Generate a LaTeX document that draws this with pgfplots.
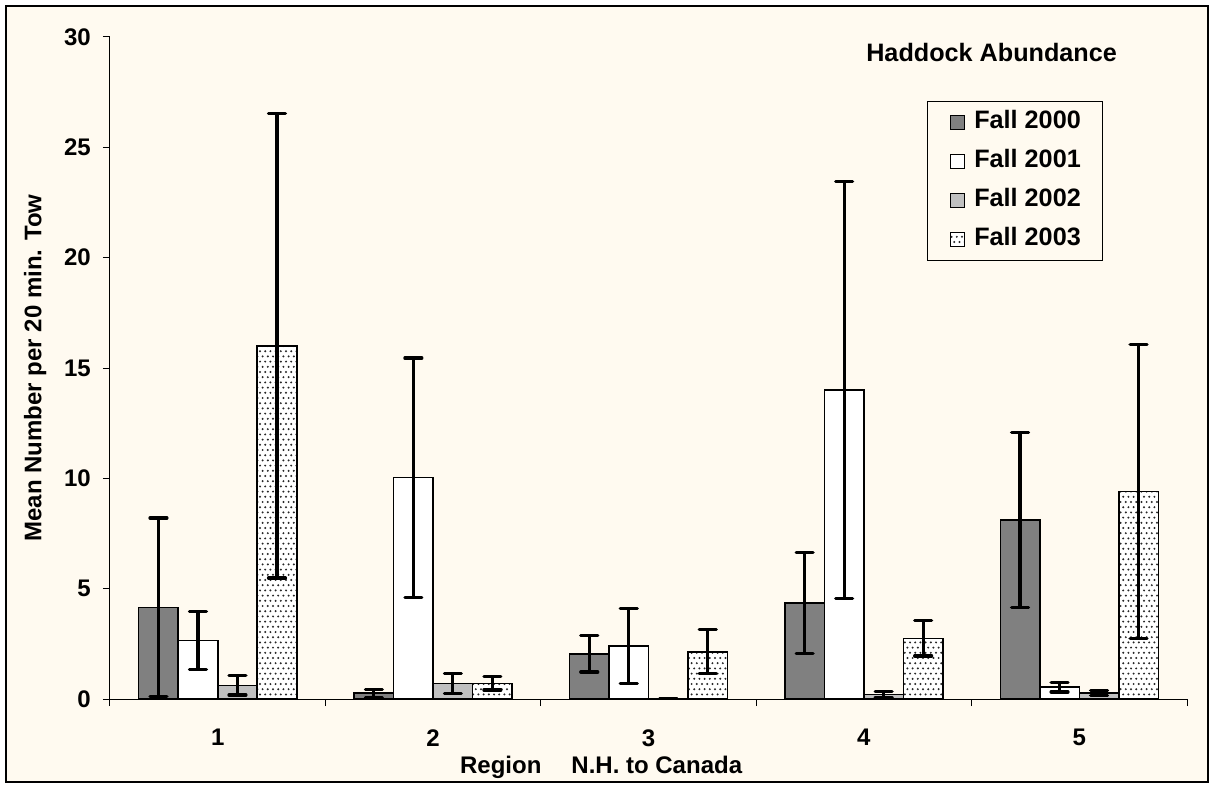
\documentclass[border=0pt]{standalone}
\usepackage{fontspec}
\setmainfont{Liberation Sans}
\usepackage{pgfplots}
\pgfplotsset{compat=1.18}
\usetikzlibrary{patterns}
\pgfdeclarepatternformonly{mydots}{\pgfqpoint{-1pt}{-1pt}}{\pgfqpoint{3.6pt}{6.2pt}}{\pgfqpoint{2.6pt}{5.2pt}}{%
  \pgfpathcircle{\pgfqpoint{0pt}{0pt}}{0.55pt}%
  \pgfpathcircle{\pgfqpoint{1.3pt}{2.6pt}}{0.55pt}%
  \pgfusepath{fill}}
\definecolor{bg}{RGB}{255,250,240}
\definecolor{dgray}{RGB}{128,128,128}
\definecolor{lgray}{RGB}{192,192,192}
\newcommand\f{\fontsize{12}{14.4}\selectfont\bfseries}
\newcommand\g{\fontsize{12.6}{15}\selectfont\bfseries}
\pgfplotsset{
  ebar/.style={error bars/.cd, y dir=both, y explicit,
    error bar style={line width=1.6pt,black},
    error mark options={rotate=90, line width=1.6pt, mark size=4.25pt, black, line cap=round}},
}
\begin{document}
\begin{tikzpicture}
\fill[white] (0,0) rectangle (607pt,394pt);
\draw[fill=bg, line width=0.6pt] (3pt,3pt) rectangle (604pt,391pt);
\begin{axis}[
  at={(55pt,44.5pt)}, anchor=south west,
  scale only axis, width=538.5pt, height=331pt,
  xmin=0.5, xmax=5.5, ymin=0, ymax=30,
  axis x line*=bottom, axis y line*=left,
  axis line style={line width=0.5pt, black},
  ybar=0pt, bar width=19.75pt,
  xtick={0.5,1.5,...,5.5}, xticklabels={},
  extra x ticks={1,2,3,4,5}, extra x tick labels={1,2,3,4,5},
  extra x tick style={tick style={draw=none}},
  ytick={0,5,...,30},
  tick align=outside,
  major tick length=3.6pt,
  tick style={black, line width=0.5pt},
  ticklabel style={font=\f},
  /pgf/number format/assume math mode=true,
  yticklabel style={xshift=-2.5pt},
  xticklabel style={yshift=-8pt},
  ylabel={Mean Number per 20 min. Tow},
  ylabel style={font=\f, at={(axis description cs:-0.0696,0.5)}, anchor=center},
  xlabel={Region\hspace{15pt}N.H. to Canada},
  xlabel style={font=\f, at={(axis description cs:0.456,-0.1118)}, anchor=base},
  legend style={at={(0.7586,0.9033)}, anchor=north west, draw=black, line width=0.5pt,
    fill=bg, font=\g, inner xsep=11pt, inner ysep=4.5pt, row sep=7.5pt, column sep=4.7pt,
    nodes={inner sep=0pt, text height=9pt, text depth=3pt}},
  legend cell align=left,
  legend image code/.code={\draw[#1, line width=0.7pt] (0pt,-3.5pt) rectangle (7pt,3.5pt);},
]
\addplot[fill=dgray, draw=black, line width=0.8pt, ebar] coordinates {
  (1,4.15) +- (0,4.05)
  (2,0.26) +- (0,0.18)
  (3,2.04) +- (0,0.82)
  (4,4.35) +- (0,2.30)
  (5,8.10) +- (0,3.96)
};
\addplot[fill=white, draw=black, line width=0.8pt, ebar] coordinates {
  (1,2.65) +- (0,1.33)
  (2,10.03) +- (0,5.42)
  (3,2.39) +- (0,1.70)
  (4,14.00) +- (0,9.45)
  (5,0.54) +- (0,0.22)
};
\addplot[fill=lgray, draw=black, line width=0.8pt, ebar] coordinates {
  (1,0.62) +- (0,0.44)
  (2,0.71) +- (0,0.45)
  (3,0.02) +- (0,0)
  (4,0.20) +- (0,0.15)
  (5,0.26) +- (0,0.11)
};
\addplot[fill=white, draw=black, line width=0.8pt, postaction={pattern=mydots, pattern color=black!85}, ebar] coordinates {
  (1,16.00) +- (0,10.52)
  (2,0.71) +- (0,0.30)
  (3,2.14) +- (0,1.00)
  (4,2.75) +- (0,0.80)
  (5,9.40) +- (0,6.67)
};
\legend{Fall 2000, Fall 2001, Fall 2002, Fall 2003}
\node[anchor=base east, font=\g] at (rel axis cs:0.9415,0.9637) {Haddock Abundance};
\end{axis}
\end{tikzpicture}
\end{document}
